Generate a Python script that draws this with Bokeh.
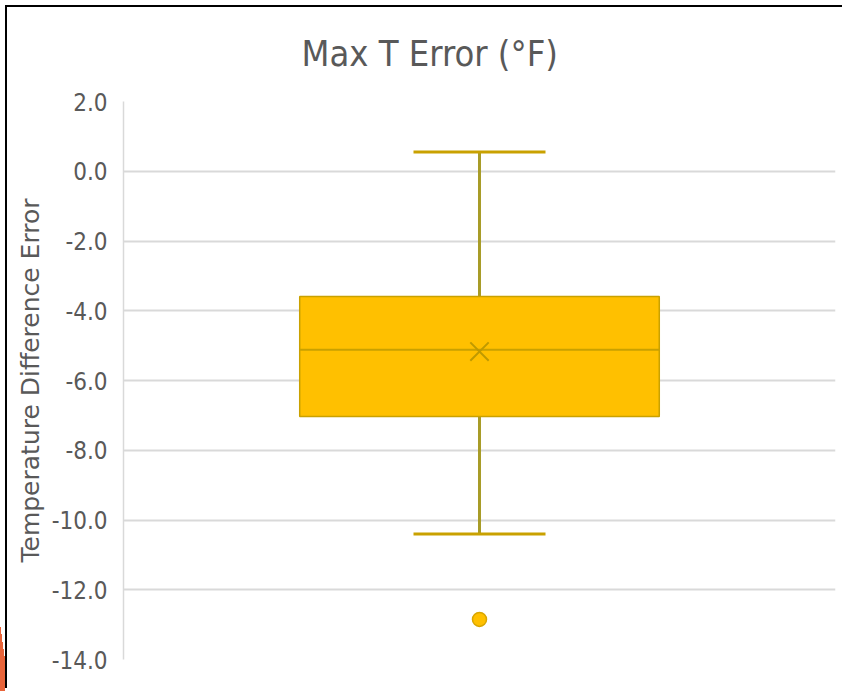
from bokeh.plotting import figure
from bokeh.models import (FactorRange, Range1d, FixedTicker, NumeralTickFormatter,
                          ColumnDataSource, Whisker, TeeHead)
from bokeh.transform import dodge
from bokeh.embed import file_html
from bokeh.resources import INLINE

# Box-plot summary of the max temperature error (°F)
category = ["Max T"]
q1 = [-7.03]
median = [-5.12]
q3 = [-3.59]
mean = [-5.17]
whisker_low = [-10.40]
whisker_high = [0.55]
outliers = [-12.85]

y_ticks = [-14, -12, -10, -8, -6, -4, -2, 0, 2]

NARROW = "Liberation Sans Narrow, DejaVu Sans Condensed, Liberation Sans"

W, H = 842, 691
p = figure(width=W, height=H, x_range=FactorRange(*category), y_range=Range1d(-14, 2),
           output_backend="svg", toolbar_location=None,
           min_border_left=123, min_border_right=7, min_border_top=101, min_border_bottom=32)
p.outline_line_color = None
p.background_fill_color = "white"
p.border_fill_color = None

# slide frame (thin black rule along top and left) and the orange corner accent
p.styles = {
    "background": (
        "linear-gradient(black, black) 5px 5px / 837px 2px no-repeat, "
        "linear-gradient(black, black) 5px 5px / 2px 683px no-repeat, "
        "linear-gradient(to bottom left, transparent 50%, #E8643A 50%) 0px 623px / 5px 37px no-repeat, "
        "linear-gradient(#E8643A, #E8643A) 0px 659px / 5px 32px no-repeat, "
        "white"
    )
}

# title
p.title.text = "Max T Error (°F)"
p.title.text_font = NARROW
p.title.text_font_size = "36px"
p.title.text_font_style = "normal"
p.title.text_color = "#595959"
p.title.align = "left"
p.title.offset = 178
p.title.standoff = 55

# axes and grid
p.xaxis.visible = False
p.xgrid.grid_line_color = None
p.yaxis.ticker = FixedTicker(ticks=y_ticks)
p.yaxis.formatter = NumeralTickFormatter(format="0.0")
p.yaxis.major_label_text_font = NARROW
p.yaxis.major_label_text_font_size = "24px"
p.yaxis.major_label_text_color = "#595959"
p.yaxis.major_label_standoff = 10
p.yaxis.major_tick_line_color = None
p.yaxis.minor_tick_line_color = None
p.yaxis.axis_line_color = "#D9D9D9"
p.yaxis.axis_line_width = 1.5
p.yaxis.axis_label = "Temperature Difference Error"
p.yaxis.axis_label_text_font = "DejaVu Sans"
p.yaxis.axis_label_text_font_size = "25px"
p.yaxis.axis_label_text_font_style = "normal"
p.yaxis.axis_label_text_color = "#595959"
p.yaxis.axis_label_standoff = 4
p.ygrid.grid_line_color = "#D9D9D9"
p.ygrid.grid_line_width = 2

box_w = 0.505
cap_px = 132

src = ColumnDataSource(dict(cat=category, q1=q1, q3=q3, med=median, mean=mean,
                            lo=whisker_low, hi=whisker_high))

# whiskers with caps
whisk = Whisker(base="cat", lower="lo", upper="hi", source=src, dimension="height",
                line_color="#A89C28", line_width=3,
                lower_head=TeeHead(size=cap_px, line_color="#C9A100", line_width=3),
                upper_head=TeeHead(size=cap_px, line_color="#C9A100", line_width=3),
                level="underlay")
p.add_layout(whisk)

# box
p.vbar(x="cat", bottom="q1", top="q3", width=box_w, source=src,
       fill_color="#FFC000", line_color="#C9A100", line_width=1.5)
# median
p.segment(x0=dodge("cat", -box_w / 2, range=p.x_range), x1=dodge("cat", box_w / 2, range=p.x_range),
          y0="med", y1="med", source=src, line_color="#C9A100", line_width=2)
# mean
p.scatter(x="cat", y="mean", source=src, marker="x", size=26, line_color="#BF9A00", line_width=2)
# outliers
p.scatter(x=category * len(outliers), y=outliers, marker="circle", size=14,
          fill_color="#FFC000", line_color="#D9A600", line_width=1.5)

open("out.html", "w").write(file_html(p, INLINE))
